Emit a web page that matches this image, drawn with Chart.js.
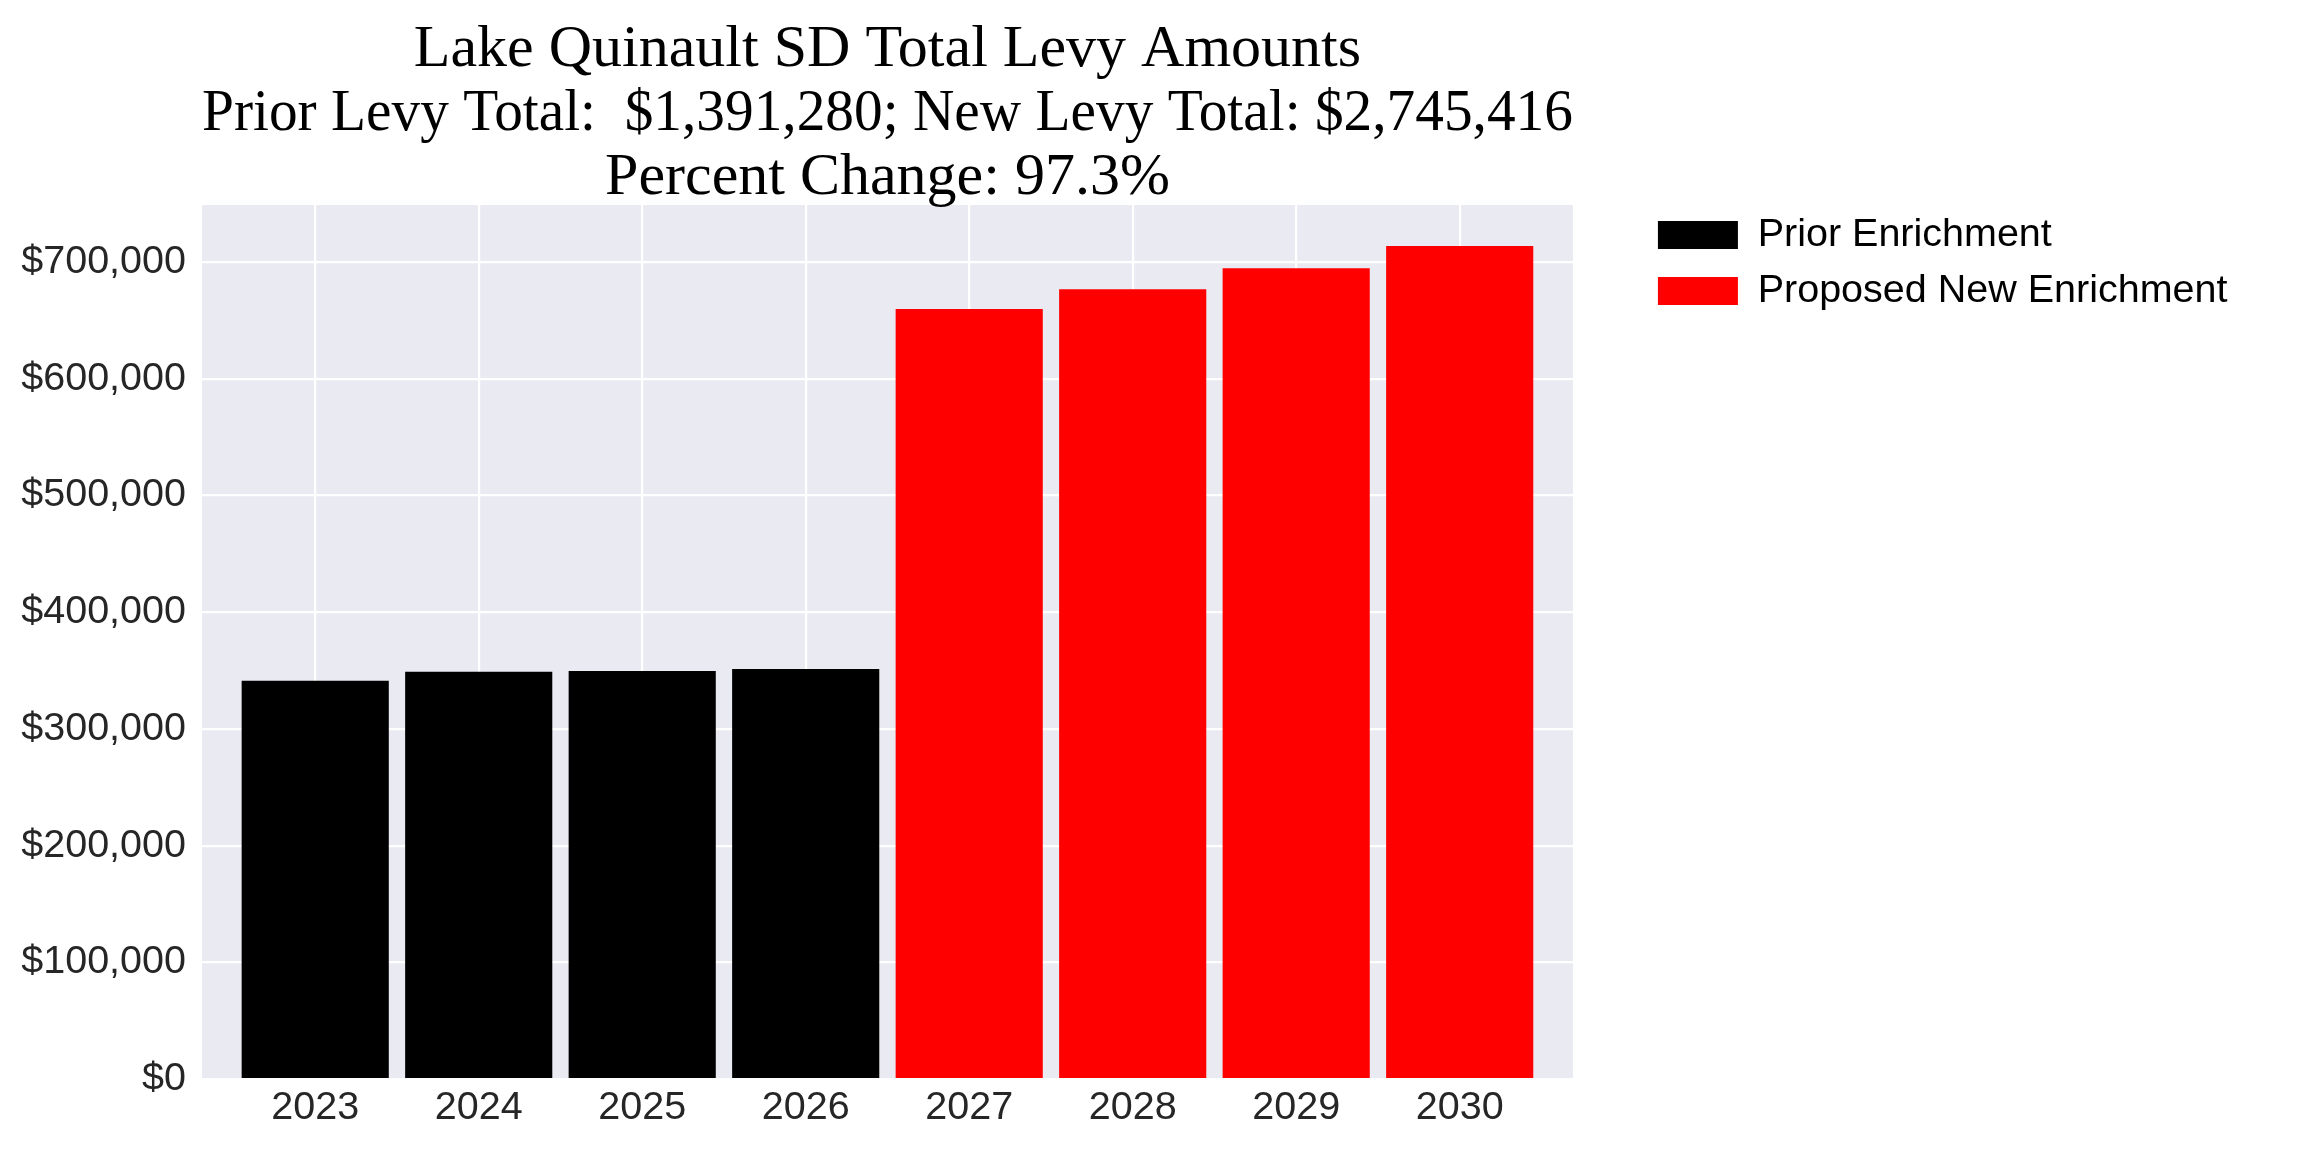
<!DOCTYPE html>
<html>
<head>
<meta charset="utf-8">
<title>Lake Quinault SD Total Levy Amounts</title>
<script src="https://cdn.jsdelivr.net/npm/chart.js@4.4.1/dist/chart.umd.min.js"></script>
<style>
  html, body { margin: 0; padding: 0; background: #ffffff; }
  #wrap { width: 2304px; height: 1152px; }
</style>
</head>
<body>
<div id="wrap"><canvas id="levyChart" width="2304" height="1152"></canvas></div>
<script>
const years = [2023, 2024, 2025, 2026, 2027, 2028, 2029, 2030];
const priorYears = [2023, 2024, 2025, 2026];
const priorValues = [341200, 348900, 349700, 351400];
const proposedYears = [2027, 2028, 2029, 2030];
const proposedValues = [659800, 676900, 694900, 713800];
const yTicks = [0, 100000, 200000, 300000, 400000, 500000, 600000, 700000];
const titleLines = [
    'Lake Quinault SD Total Levy Amounts',
    'Prior Levy Total:  $1,391,280; New Levy Total: $2,745,416',
    'Percent Change: 97.3%'
];

// one value per year, null where the series has no bar
function spread(seriesYears, values) {
    return years.map(y => {
        const i = seriesYears.indexOf(y);
        return i === -1 ? null : values[i];
    });
}

const plotBackground = {
    id: 'plotBackground',
    beforeDraw(chart) {
        const { ctx, chartArea } = chart;
        ctx.save();
        ctx.fillStyle = '#ffffff';
        ctx.fillRect(0, 0, chart.width, chart.height);
        ctx.fillStyle = '#EAEAF2';
        ctx.fillRect(chartArea.left, chartArea.top, chartArea.right - chartArea.left, chartArea.bottom - chartArea.top);
        ctx.restore();
    }
};

const tickFont = { family: '"Liberation Sans", Arial, sans-serif', size: 39.5 };

new Chart(document.getElementById('levyChart').getContext('2d'), {
    type: 'bar',
    plugins: [plotBackground],
    data: {
        labels: years,
        datasets: [
            {
                label: 'Prior Enrichment',
                data: spread(priorYears, priorValues),
                backgroundColor: '#000000',
                borderWidth: 0,
                categoryPercentage: 1.0,
                barPercentage: 0.9
            },
            {
                label: 'Proposed New Enrichment',
                data: spread(proposedYears, proposedValues),
                backgroundColor: '#FF0000',
                borderWidth: 0,
                categoryPercentage: 1.0,
                barPercentage: 0.9
            }
        ]
    },
    options: {
        responsive: false,
        maintainAspectRatio: false,
        devicePixelRatio: 1,
        animation: false,
        layout: { padding: { left: 0, top: 0, right: 66.5, bottom: 0 } },
        plugins: {
            title: {
                display: true,
                fullSize: false,
                text: titleLines,
                color: '#000000',
                font: { family: '"Liberation Serif", "Times New Roman", serif', size: 60, weight: 'normal', lineHeight: 64 / 60 },
                padding: { top: 18, bottom: -5 }
            },
            legend: {
                position: 'right',
                align: 'start',
                maxWidth: 700,
                title: { display: true, text: '', font: { size: 10, lineHeight: 1 }, padding: { top: 188.75, bottom: 0 } },
                labels: {
                    boxWidth: 80,
                    boxHeight: 28,
                    padding: 16.5,
                    color: '#000000',
                    font: tickFont
                }
            },
            tooltip: { enabled: false }
        },
        scales: {
            x: {
                type: 'linear',
                stacked: true,
                bounds: 'data',
                offset: false,
                min: 2022.3075,
                max: 2030.6925,
                afterBuildTicks: scale => { scale.ticks = years.map(v => ({ value: v })); },
                ticks: {
                    includeBounds: false,
                    color: '#262626',
                    font: tickFont,
                    padding: 5,
                    callback: v => String(v)
                },
                grid: { offset: false, color: '#FFFFFF', lineWidth: 2.2, drawTicks: false },
                border: { display: false },
                afterFit: scale => { scale.height = 73; }
            },
            y: {
                stacked: true,
                min: 0,
                max: 749000,
                afterBuildTicks: scale => { scale.ticks = yTicks.map(v => ({ value: v })); },
                ticks: {
                    color: '#262626',
                    font: tickFont,
                    padding: 16,
                    callback: v => '$' + v.toLocaleString('en-US')
                },
                grid: { color: '#FFFFFF', lineWidth: 2.2, drawTicks: false },
                border: { display: false },
                afterFit: scale => { scale.width = 202; }
            },
            // empty right-hand spacer between plot and legend
            gap: {
                axis: 'y',
                type: 'linear',
                position: 'right',
                grid: { display: false },
                ticks: { display: false },
                border: { display: false },
                afterFit: scale => { scale.width = 68.5; }
            }
        }
    }
});
</script>
</body>
</html>
